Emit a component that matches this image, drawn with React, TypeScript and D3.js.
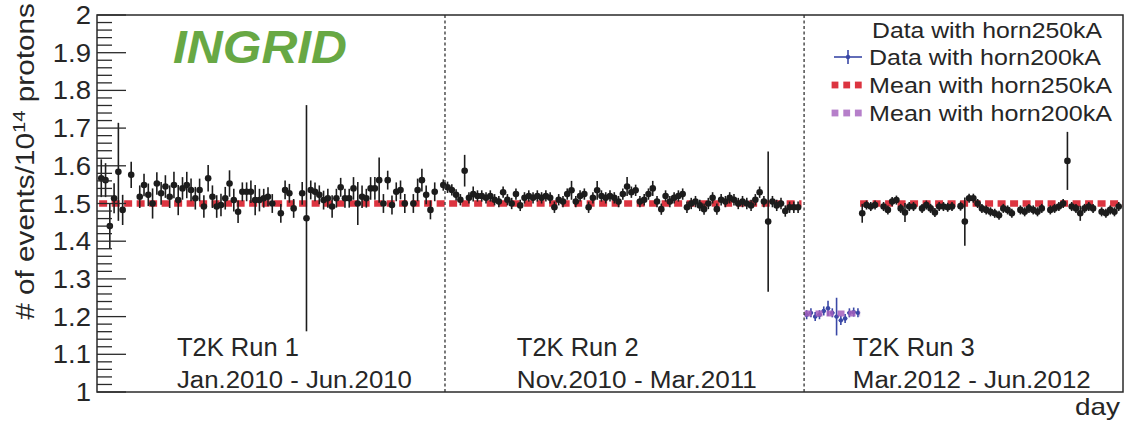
import React from "react";
import * as d3 from "d3";

// ---------- data (day, events per 1e14 protons, error) ----------
const run1Horn250: [number, number, number][] = [
  [1, 1.567, 0.05], [2, 1.562, 0.045], [3, 1.44, 0.06], [4, 1.514, 0.04], [5, 1.584, 0.13],
  [6, 1.483, 0.04], [8, 1.576, 0.035], [10, 1.518, 0.03], [11, 1.549, 0.03], [12, 1.523, 0.03],
  [13, 1.5, 0.04], [14, 1.553, 0.03], [15, 1.527, 0.03], [16, 1.545, 0.03], [17, 1.518, 0.03],
  [18, 1.549, 0.035], [19, 1.509, 0.04], [20, 1.54, 0.03], [21, 1.549, 0.035], [22, 1.536, 0.03],
  [23, 1.514, 0.03], [24, 1.536, 0.03], [25, 1.492, 0.03], [26, 1.567, 0.035], [27, 1.518, 0.03],
  [28, 1.492, 0.03], [29, 1.496, 0.03], [30, 1.514, 0.03], [31, 1.553, 0.035], [32, 1.509, 0.03],
  [33, 1.478, 0.03], [34, 1.531, 0.025], [35, 1.531, 0.025], [36, 1.531, 0.03], [37, 1.509, 0.04],
  [38, 1.509, 0.03], [39, 1.514, 0.025], [40, 1.518, 0.025], [41, 1.5, 0.025], [43, 1.474, 0.025],
  [44, 1.536, 0.025], [45, 1.527, 0.025], [46, 1.487, 0.025], [48, 1.527, 0.03], [49, 1.461, 0.3],
  [50, 1.536, 0.025], [51, 1.531, 0.025], [52, 1.523, 0.025], [53, 1.509, 0.025], [54, 1.514, 0.025],
  [55, 1.492, 0.03], [56, 1.514, 0.025], [57, 1.543, 0.025], [58, 1.514, 0.025], [59, 1.514, 0.025],
  [60, 1.54, 0.03], [61, 1.5, 0.057], [62, 1.518, 0.03], [63, 1.514, 0.025], [64, 1.54, 0.03],
  [65, 1.54, 0.03], [66, 1.562, 0.06], [67, 1.5, 0.025], [68, 1.562, 0.025], [69, 1.496, 0.025],
  [70, 1.531, 0.025], [71, 1.536, 0.025], [72, 1.5, 0.025], [74, 1.5, 0.025], [75, 1.536, 0.03],
  [76, 1.562, 0.03], [77, 1.523, 0.025], [78, 1.483, 0.025], [79, 1.531, 0.025],
];

const run2Horn250: [number, number, number][] = [
  [81, 1.549, 0.015], [82, 1.543, 0.015], [83, 1.536, 0.015], [84, 1.523, 0.015], [85, 1.51, 0.015],
  [86, 1.587, 0.042], [87, 1.515, 0.015], [88, 1.525, 0.02], [89, 1.52, 0.015], [90, 1.52, 0.015],
  [91, 1.515, 0.015], [92, 1.52, 0.015], [93, 1.51, 0.015], [94, 1.505, 0.015], [95, 1.53, 0.015],
  [96, 1.51, 0.015], [97, 1.5, 0.015], [98, 1.525, 0.015], [99, 1.495, 0.015], [100, 1.515, 0.015],
  [101, 1.52, 0.015], [102, 1.515, 0.015], [103, 1.52, 0.015], [104, 1.515, 0.015], [105, 1.52, 0.015],
  [106, 1.515, 0.015], [107, 1.49, 0.015], [108, 1.51, 0.015], [109, 1.505, 0.015], [110, 1.525, 0.015],
  [111, 1.535, 0.025], [112, 1.505, 0.015], [113, 1.52, 0.015], [114, 1.525, 0.015], [115, 1.49, 0.015],
  [116, 1.515, 0.015], [117, 1.535, 0.025], [118, 1.52, 0.015], [119, 1.515, 0.015], [120, 1.52, 0.015],
  [121, 1.515, 0.015], [122, 1.505, 0.015], [123, 1.525, 0.015], [124, 1.545, 0.025], [125, 1.53, 0.015],
  [126, 1.535, 0.015], [127, 1.505, 0.015], [128, 1.51, 0.015], [129, 1.525, 0.015], [130, 1.54, 0.02],
  [131, 1.505, 0.015], [132, 1.485, 0.015], [133, 1.52, 0.015], [134, 1.505, 0.015], [135, 1.515, 0.015],
  [136, 1.52, 0.015], [137, 1.525, 0.015], [138, 1.49, 0.015], [139, 1.5, 0.015], [140, 1.505, 0.015],
  [141, 1.495, 0.015], [142, 1.485, 0.015], [143, 1.5, 0.015], [144, 1.515, 0.015], [145, 1.485, 0.015],
  [146, 1.51, 0.015], [147, 1.505, 0.015], [148, 1.515, 0.015], [149, 1.51, 0.015], [150, 1.5, 0.015],
  [151, 1.505, 0.015], [152, 1.5, 0.015], [153, 1.495, 0.015], [154, 1.51, 0.015], [155, 1.53, 0.015],
  [156, 1.505, 0.015], [157, 1.452, 0.186], [158, 1.505, 0.015], [159, 1.495, 0.015], [160, 1.5, 0.015],
  [161, 1.48, 0.015], [162, 1.49, 0.015], [163, 1.49, 0.015], [164, 1.49, 0.015],
];

const run3Horn200: [number, number, number][] = [
  [166, 1.205, 0.012], [167, 1.21, 0.012], [168, 1.2, 0.012], [169, 1.205, 0.012], [170, 1.215, 0.012],
  [171, 1.222, 0.02], [172, 1.21, 0.012], [173, 1.2, 0.05], [174, 1.19, 0.012], [175, 1.195, 0.012],
  [176, 1.21, 0.012], [177, 1.212, 0.012], [178, 1.21, 0.012],
];

const run3Horn250: [number, number, number][] = [
  [179, 1.474, 0.025], [180, 1.496, 0.012], [181, 1.492, 0.012], [182, 1.496, 0.012], [184, 1.492, 0.012],
  [185, 1.483, 0.012], [186, 1.505, 0.012], [187, 1.509, 0.012], [188, 1.487, 0.012], [189, 1.476, 0.025],
  [190, 1.492, 0.012], [191, 1.492, 0.012], [193, 1.487, 0.012], [194, 1.496, 0.012], [195, 1.487, 0.012],
  [196, 1.476, 0.012], [197, 1.492, 0.012], [198, 1.492, 0.012], [199, 1.49, 0.012], [200, 1.492, 0.012],
  [202, 1.493, 0.012], [203, 1.452, 0.064], [204, 1.514, 0.012], [205, 1.514, 0.012], [206, 1.5, 0.012],
  [207, 1.487, 0.012], [208, 1.483, 0.012], [209, 1.478, 0.012], [210, 1.474, 0.012], [211, 1.469, 0.012],
  [212, 1.487, 0.012], [213, 1.483, 0.012], [214, 1.474, 0.012], [216, 1.483, 0.012], [217, 1.478, 0.012],
  [218, 1.487, 0.012], [219, 1.483, 0.012], [220, 1.478, 0.012], [221, 1.487, 0.012], [223, 1.483, 0.012],
  [224, 1.487, 0.012], [225, 1.492, 0.012], [226, 1.5, 0.012], [227, 1.613, 0.077], [228, 1.492, 0.012],
  [229, 1.487, 0.012], [230, 1.474, 0.02], [231, 1.487, 0.012], [232, 1.492, 0.012], [233, 1.487, 0.012],
  [235, 1.478, 0.012], [236, 1.474, 0.012], [237, 1.483, 0.012], [238, 1.478, 0.012], [239, 1.492, 0.012],
];

// mean segments: [fromDay, toDay, value]
const meanHorn250: [number, number, number][] = [
  [0.5, 164.8, 1.5],
  [178.5, 240, 1.5],
];
const meanHorn200: [number, number, number][] = [[165.5, 178.5, 1.208]];

const runSeparators = [81.4, 165.4];
const runLabels = ["T2K Run 1", "T2K Run 2", "T2K Run 3"];
const runPeriods = ["Jan.2010 - Jun.2010", "Nov.2010 - Mar.2011", "Mar.2012 - Jun.2012"];
const runLabelDay = [18.7, 98.2, 176.8];

const yTickValues = [1, 1.1, 1.2, 1.3, 1.4, 1.5, 1.6, 1.7, 1.8, 1.9, 2];
const yTickLabels = ["1", "1.1", "1.2", "1.3", "1.4", "1.5", "1.6", "1.7", "1.8", "1.9", "2"];

const legendLabels = [
  "Data with horn250kA",
  "Data with horn200kA",
  "Mean with horn250kA",
  "Mean with horn200kA",
];

// ---------- styling ----------
const W = 1128;
const H = 421;
const FRAME = { left: 97, right: 1123, top: 15, bottom: 392 };
const FONT = "'Liberation Sans', Arial, Helvetica, sans-serif";
const TEXT = "#262626";
const RED = "#dc3440";
const PURPLE = "#a45fbd";
const BLUE = "#3a48a6";
const GREEN = "#68a844";

export default function App() {
  const x = d3.scaleLinear().domain([0, 240]).range([FRAME.left, FRAME.right]);
  const y = d3.scaleLinear().domain([1, 2]).range([FRAME.bottom, FRAME.top]);

  const minorTicks = d3.range(0, 51).map((i) => 1 + i * 0.02).filter((v, i) => i % 5 !== 0);

  const dataPoints = (pts: [number, number, number][], color: string, r: number, hx: number, key: string) =>
    pts.map(([d, v, e], i) => (
      <g key={key + i}>
        <line x1={x(d)} x2={x(d)} y1={y(v - e)} y2={y(v + e)} stroke={color} strokeWidth={1.6} />
        {hx > 0 && (
          <line x1={x(d - hx)} x2={x(d + hx)} y1={y(v)} y2={y(v)} stroke={color} strokeWidth={1.6} />
        )}
        <circle cx={x(d)} cy={y(v)} r={r} fill={color} />
      </g>
    ));

  const legendRowY = [30, 57, 85, 113];

  return (
    <svg
      width={W}
      height={H}
      style={{ position: "absolute", left: 0, top: 0, background: "#fff" }}
      fontFamily={FONT}
    >
      <rect x={0} y={0} width={W} height={H} fill="#fff" />

      {/* mean of horn250kA */}
      {meanHorn250.map(([a, b, v], i) => (
        <line
          key={"m250" + i}
          x1={x(a)}
          x2={x(b)}
          y1={y(v)}
          y2={y(v)}
          stroke={RED}
          strokeWidth={6.5}
          strokeDasharray="8,4.5"
        />
      ))}

      {/* data */}
      {dataPoints(run1Horn250, "#1c1c1c", 3.3, 0, "r1")}
      {dataPoints(run2Horn250, "#1c1c1c", 3.3, 0, "r2")}
      {dataPoints(run3Horn250, "#1c1c1c", 3.3, 0, "r3")}
      {dataPoints(run3Horn200, BLUE, 2.2, 0.5, "b3")}

      {meanHorn200.map(([a, b, v], i) => (
        <line
          key={"m200" + i}
          x1={x(a)}
          x2={x(b)}
          y1={y(v)}
          y2={y(v)}
          stroke={PURPLE}
          strokeWidth={6}
          strokeDasharray="7,4"
          opacity={0.85}
        />
      ))}

      {/* run separators */}
      {runSeparators.map((d, i) => (
        <line
          key={"sep" + i}
          x1={x(d)}
          x2={x(d)}
          y1={FRAME.top}
          y2={FRAME.bottom}
          stroke="#333"
          strokeWidth={1.3}
          strokeDasharray="3,2.5"
        />
      ))}

      {/* frame */}
      <rect
        x={FRAME.left}
        y={FRAME.top}
        width={FRAME.right - FRAME.left}
        height={FRAME.bottom - FRAME.top}
        fill="none"
        stroke="#2a2a2a"
        strokeWidth={1.5}
      />

      {/* y ticks */}
      {yTickValues.map((v) => (
        <line key={"M" + v} x1={FRAME.left} x2={FRAME.left + 29} y1={y(v)} y2={y(v)} stroke="#2a2a2a" strokeWidth={1.3} />
      ))}
      {minorTicks.map((v) => (
        <line key={"m" + v} x1={FRAME.left} x2={FRAME.left + 15} y1={y(v)} y2={y(v)} stroke="#2a2a2a" strokeWidth={1.3} />
      ))}
      {yTickValues.map((v, i) => (
        <text
          key={"L" + v}
          transform={`translate(91,${y(v)}) scale(1.1,1)`}
          textAnchor="end"
          dy="0.36em"
          fontSize={25}
          fill={TEXT}
        >
          {yTickLabels[i]}
        </text>
      ))}

      {/* y title */}
      <text
        transform={`translate(34,3) rotate(-90) scale(1.19,1)`}
        textAnchor="end"
        fontSize={25}
        fill={TEXT}
      >
        # of events/10
        <tspan fontSize={17} dy={-9}>14</tspan>
        <tspan dy={9}> protons</tspan>
      </text>

      {/* x title */}
      <text x={1120} y={415} textAnchor="end" fontSize={24} fill={TEXT} textLength={45} lengthAdjust="spacingAndGlyphs">
        day
      </text>

      {/* INGRID */}
      <text
        x={173}
        y={63}
        fontSize={46}
        fontWeight="bold"
        fontStyle="italic"
        fill={GREEN}
        textLength={174}
        lengthAdjust="spacingAndGlyphs"
      >
        INGRID
      </text>

      {/* run labels */}
      {runLabels.map((t, i) => (
        <text
          key={"rl" + i}
          x={x(runLabelDay[i])}
          y={356}
          fontSize={25}
          fill={TEXT}
          textLength={122}
          lengthAdjust="spacingAndGlyphs"
        >
          {t}
        </text>
      ))}
      {runPeriods.map((t, i) => (
        <text
          key={"rp" + i}
          x={x(runLabelDay[i])}
          y={388}
          fontSize={23}
          fill={TEXT}
          textLength={[235, 240, 238][i]}
          lengthAdjust="spacingAndGlyphs"
        >
          {t}
        </text>
      ))}

      {/* legend */}
      <g>
        {/* entry 2 marker: blue cross */}
        <line x1={834} x2={862} y1={legendRowY[1]} y2={legendRowY[1]} stroke={BLUE} strokeWidth={1.6} />
        <line x1={848} x2={848} y1={legendRowY[1] - 7} y2={legendRowY[1] + 7} stroke={BLUE} strokeWidth={1.6} />
        <circle cx={848} cy={legendRowY[1]} r={2.2} fill={BLUE} />
        {/* mean markers */}
        {[RED, PURPLE].map((c, k) =>
          [835, 846.7, 858.3].map((cx, j) => (
            <rect
              key={"lg" + k + j}
              x={cx - 3.4}
              y={legendRowY[2 + k] - 3.4}
              width={6.8}
              height={6.8}
              fill={c}
              opacity={k === 1 ? 0.8 : 1}
            />
          ))
        )}
        {legendLabels.map((t, i) => (
          <text
            key={"lt" + i}
            x={i === 0 ? 872 : 869}
            y={legendRowY[i] + 8}
            fontSize={22}
            fill={TEXT}
            textLength={[230, 232, 243, 243][i]}
            lengthAdjust="spacingAndGlyphs"
          >
            {t}
          </text>
        ))}
      </g>
    </svg>
  );
}
